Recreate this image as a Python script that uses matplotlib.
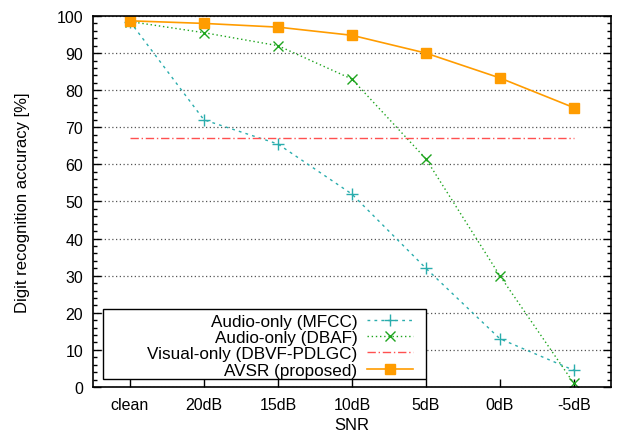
import numpy as np
import matplotlib.pyplot as plt
from matplotlib.patches import Rectangle
from matplotlib.ticker import MultipleLocator

plt.rcParams['font.family'] = ['Liberation Sans', 'DejaVu Sans']
plt.rcParams['font.size'] = 11.5

snr_labels = ['clean', '20dB', '15dB', '10dB', '5dB', '0dB', '-5dB']
mfcc = [98.5, 72.0, 65.5, 52.0, 32.0, 13.0, 4.5]
dbaf = [98.5, 95.5, 92.0, 83.0, 61.5, 30.0, 1.0]
visual = [67.0] * 7
avsr = [98.7, 98.0, 97.0, 94.8, 90.0, 83.3, 75.3]

x = np.arange(len(snr_labels))

fig = plt.figure(figsize=(6.17, 4.39), dpi=100)
ax = fig.add_axes([0.1507, 0.1162, 0.8393, 0.8451])

ax.plot(x, mfcc, color='#2aadad', linestyle=(0, (2, 3)), linewidth=1.0,
        marker='+', markersize=8, markeredgewidth=1.0, label='Audio-only (MFCC)')
ax.plot(x, dbaf, color='#1fa51f', linestyle=(0, (1, 2)), linewidth=1.0,
        marker='x', markersize=7, markeredgewidth=1.0, label='Audio-only (DBAF)')
ax.plot(x, visual, color='#ff5050', linestyle=(0, (6, 2, 1, 2)), linewidth=1.0,
        label='Visual-only (DBVF-PDLGC)')
ax.plot(x, avsr, color='#ff9c00', linestyle='-', linewidth=1.2,
        marker='s', markersize=7.5, label='AVSR (proposed)')

ax.set_xlim(-0.5, 6.5)
ax.set_ylim(0, 100)
ax.set_xticks(x)
ax.set_xticklabels(snr_labels)
ax.yaxis.set_major_locator(MultipleLocator(10))
ax.yaxis.set_minor_locator(MultipleLocator(2))
ax.tick_params(axis='y', which='both', direction='in', left=True, right=True)
ax.tick_params(axis='y', which='major', length=6, width=1)
ax.tick_params(axis='y', which='minor', length=3, width=1)
ax.tick_params(axis='x', direction='in', length=6, width=1, top=False)
ax.tick_params(axis='both', pad=7)
for s in ax.spines.values():
    s.set_linewidth(1.2)

ax.grid(axis='y', which='major', color='#555555', linestyle=(0, (1, 2)), linewidth=0.9)

ax.set_xlabel('SNR', fontsize=12)
ax.set_ylabel('Digit recognition accuracy [%]', fontsize=12, labelpad=19)

# gnuplot-style key box: wider than its content on the left
box = Rectangle((0.019, 0.0216), 0.624, 0.188, transform=ax.transAxes,
                facecolor='white', edgecolor='black', linewidth=1.0, zorder=4)
ax.add_patch(box)

leg = ax.legend(loc='lower right', bbox_to_anchor=(0.641, -0.007), markerfirst=False,
                frameon=False, handlelength=2.7, labelspacing=0.08, borderpad=0.2,
                handletextpad=0.55, fontsize=12.3)
leg.set_zorder(5)

fig.savefig('out.png', dpi=100)
